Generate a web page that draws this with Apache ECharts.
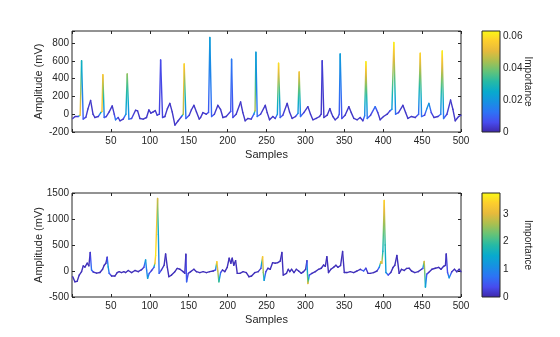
<!DOCTYPE html>
<html><head><meta charset="utf-8">
<script src="https://cdn.jsdelivr.net/npm/echarts@6/dist/echarts.min.js"></script>
<style>html,body{margin:0;padding:0;background:#fff}#c{width:560px;height:337px}</style>
</head><body><div id="c"></div>
<script>
// ---------- data ----------
const topSamples = [1,4,8,10.5,12.3,14.4,17.9,20.5,23.9,27,29.4,33.7,37,38.5,39.7,41.4,44,47.8,51.7,54.3,56,59.4,61.6,65.8,69.3,71,73.1,76.6,81.7,84.3,87.3,91.5,95.8,98.8,101.4,104.4,107,109.5,112.3,113.9,116.4,119.4,122.5,125.8,128.8,132.3,136.5,140.8,143,144.2,146.4,150.7,153.5,156.7,160,163.5,165.3,168.3,172.5,175.5,177.2,179.4,183,187.5,190.9,194,198.2,202.5,204,205.1,206.8,211,216.7,219.6,222.6,226,230.3,233.8,235.3,236.4,238.1,242.4,248.4,250.9,253.9,258.2,261.2,264,265.5,267.6,271,276.6,279.6,283,287.3,290.5,292,293.7,298,303.2,306.6,309.6,313.9,318.2,320.3,321.6,323.8,328,331.5,333.5,335.3,338.3,341.7,343.5,344.7,346.8,351,355.9,358.9,362.3,366.6,370.4,373.9,376.2,377.8,379.5,383.8,389.7,393.1,396.1,400.4,405.1,408.6,411.2,413.7,415.9,419.7,425.3,428.8,431.8,436.1,441.2,445.5,447.6,449.3,453.2,456,458.8,461.8,465.3,470.4,474,475.9,477.6,481.9,486.6,489.6,492.6,496.9,500];
const topAmplitude = [-48,-26,-26,-10,600,-55,-33,60,155,0,-37,-26,18,30,444,-37,-26,26,93,0,-63,-37,-74,-55,0,452,-55,-48,44,37,-48,-55,-37,48,11,26,41,-11,0,611,-37,-26,60,122,26,-122,-74,-26,0,566,-48,-11,50,100,26,-55,-37,18,0,20,863,-26,0,100,55,-37,-26,18,30,618,-37,0,137,18,-74,-48,-55,0,40,696,-26,0,100,18,-63,-26,-48,0,574,-37,-11,122,26,-48,-26,10,474,-26,18,85,0,-63,-48,-26,0,600,-37,-11,63,10,-26,-63,-37,0,678,-48,-11,85,18,-48,-63,-37,-74,-18,589,-48,-11,85,18,-63,-26,0,37,55,807,0,18,100,18,-48,-26,-37,0,685,-26,-11,60,122,18,-37,-26,0,711,-48,0,159,55,-74,-26,-11];
const topImportance = [0.003,0.003,0.004,0.055,0.028,0.008,0.004,0.003,0.003,0.003,0.003,0.003,0.025,0.055,0.055,0.01,0.004,0.003,0.003,0.004,0.015,0.004,0.003,0.003,0.02,0.042,0.015,0.005,0.003,0.003,0.003,0.003,0.003,0.003,0.003,0.003,0.003,0.004,0.005,0.006,0.005,0.003,0.003,0.003,0.003,0.003,0.003,0.005,0.045,0.058,0.01,0.004,0.003,0.003,0.003,0.003,0.003,0.003,0.003,0.008,0.022,0.01,0.004,0.003,0.003,0.003,0.003,0.004,0.008,0.014,0.006,0.003,0.003,0.003,0.003,0.003,0.003,0.012,0.045,0.022,0.012,0.004,0.003,0.003,0.003,0.003,0.003,0.02,0.06,0.01,0.004,0.003,0.003,0.003,0.003,0.018,0.054,0.012,0.004,0.003,0.003,0.003,0.003,0.003,0.003,0.004,0.003,0.003,0.003,0.003,0.003,0.003,0.004,0.008,0.022,0.006,0.003,0.003,0.003,0.003,0.003,0.003,0.003,0.015,0.062,0.012,0.004,0.012,0.004,0.003,0.003,0.003,0.005,0.02,0.062,0.012,0.004,0.003,0.003,0.003,0.003,0.003,0.01,0.058,0.012,0.004,0.018,0.02,0.006,0.003,0.003,0.015,0.062,0.012,0.004,0.003,0.003,0.003,0.003,0.003];

const bottomSamples = [1,3.7,6.6,9.3,12.3,14.4,16.6,19.6,21.7,23.4,25.1,27.3,31.6,35.9,39.3,41.4,43.6,45.2,46.5,47.8,50.9,55.1,58.1,60.7,63.6,66.6,69,72.3,76.6,80.9,85.1,89.4,92.4,94.6,95.9,97.2,99.3,102.3,105.3,106.6,107.5,110,111,112,115,118.4,120.3,122.5,124.5,127.9,132.2,135.2,138.7,142.9,145,146.4,147.3,149.5,152.5,156.7,160,164.3,168.6,172.8,177,181.5,184.5,186.2,187.4,188.8,191,193.5,196.5,199.5,202,204.2,205.9,208,210.3,212.4,215.8,220,224,227.4,230.8,235.1,239.4,242.8,245,245.9,247,249.2,251.8,254.8,257.8,261.2,264.5,267.6,269.8,271.5,275.7,278,280,282.3,285.3,288.3,291.3,294.7,297.5,300.3,302,303.2,305,308.4,312.7,317,320.4,323.4,325.6,327.6,329.7,332.7,336.2,339.2,341.8,345.2,347.8,350,353.4,357.7,362,366.3,370.5,374.8,377.8,380.4,383.4,387.7,392,394.9,397,398.3,399.6,401.3,402.5,403.5,406.5,409.8,412.7,414.9,417.6,420.5,423.5,427,430,433.4,436.4,440.7,445,449.3,451,452.7,454.3,456,458.4,462.7,467,471.3,474.3,477.7,480,481,482.7,484.8,488.2,491.6,494.6,497.6,500];
const bottomAmplitude = [-110,-207,-200,-78,-13,97,75,150,100,355,20,-20,-40,-30,33,110,150,265,80,-45,-97,-97,-30,-13,-30,-13,-30,10,-30,10,-13,25,70,213,20,-142,-45,10,70,150,300,1395,700,-45,20,110,330,75,-110,-78,-13,50,33,-13,-45,323,-207,-45,-13,33,-13,-30,-13,-30,-13,0,20,180,0,-207,-30,20,-13,70,245,150,245,110,200,-45,-45,-13,-30,-110,-97,-30,-13,50,277,-30,-180,-13,53,33,160,150,160,190,355,-78,-45,33,-13,33,-30,33,0,-45,-13,33,200,-240,-78,-45,-13,33,53,115,90,277,-30,33,70,110,70,105,375,-30,-30,-13,-30,0,33,0,53,-45,-45,-30,0,70,180,150,380,1357,500,-30,-78,-30,70,110,300,-45,33,10,50,53,0,-30,-13,33,50,185,-310,-60,-30,33,53,70,33,90,110,330,-30,-130,-13,33,-13,33,-13];
const bottomImportance = [0.1,0.1,0.1,0.1,0.1,0.1,0.1,0.1,0.1,0.15,0.8,0.2,0.1,0.1,0.1,0.1,0.1,0.2,1.3,0.6,0.1,0.1,0.1,0.1,0.1,0.1,0.1,0.1,0.1,0.1,0.1,0.1,0.3,1.3,0.8,1.4,0.5,0.2,0.6,3.2,3.6,2.9,1.4,0.6,0.2,0.1,0.1,0.1,0.1,0.1,0.1,0.1,0.1,0.1,0.1,0.1,0.6,0.2,0.1,0.1,0.1,0.1,0.1,0.1,0.1,0.1,0.4,3.4,2.8,2.0,0.5,0.1,0.1,0.1,0.1,0.1,0.1,0.1,0.1,0.1,0.1,0.1,0.1,0.1,0.1,0.1,0.1,0.3,3.3,2.5,1.3,0.3,0.1,0.1,0.1,0.1,0.1,0.1,0.1,0.1,0.1,0.1,0.1,0.1,0.1,0.1,0.1,0.1,0.1,0.1,0.2,3.0,0.5,0.1,0.1,0.1,0.1,0.1,0.1,0.1,0.1,0.1,0.1,0.1,0.1,0.1,0.1,0.1,0.1,0.1,0.1,0.1,0.1,0.6,0.3,0.1,0.1,0.1,0.1,0.8,3.2,3.0,1.6,3.4,1.8,1.2,0.4,0.1,0.1,0.1,0.1,0.1,0.1,0.1,0.1,0.1,0.1,0.1,0.1,0.1,0.5,2.9,1.5,0.4,0.1,0.1,0.1,0.1,0.1,0.1,0.1,0.1,0.4,1.2,0.2,0.1,0.1,0.1,0.1];

const xTickLabels = [50,100,150,200,250,300,350,400,450,500];
const topYTickLabels = [-200,0,200,400,600,800];
const bottomYTickLabels = [-500,0,500,1000,1500];
const topCbTickLabels = [0,0.02,0.04,0.06];
const bottomCbTickLabels = [0,1,2,3];
const topImpMax = 0.0635;
const bottomImpMax = 3.75;

// ---------- colormap (parula-like) ----------
const parulaStops = [[62,38,168],[71,76,238],[45,115,245],[22,145,226],[8,170,205],[38,186,165],[100,195,120],[170,191,80],[230,186,60],[253,206,45],[249,250,20]];
function parula(t){
  t = Math.max(0, Math.min(1, t));
  const f = t*(parulaStops.length-1), i = Math.min(Math.floor(f), parulaStops.length-2), r = f-i;
  const a = parulaStops[i], b = parulaStops[i+1];
  return 'rgb(' + [0,1,2].map(k=>Math.round(a[k]+(b[k]-a[k])*r)).join(',') + ')';
}
function cbGradient(){
  const stops = [];
  for (let k=0;k<=20;k++) stops.push({offset:k/20, color: parula(1-k/20)});
  return new echarts.graphic.LinearGradient(0,0,0,1,stops);
}

const TXT = '#262626';
const FONT = 'Liberation Sans, Arial, sans-serif';
function inList(list){ return v => list.some(t=>Math.abs(t-v)<1e-9) ? String(v) : ''; }

function makeSeries(xs, ys, imps, impMax, xi, yi){
  const data = xs.slice(0,-1).map((x,i)=>[x, ys[i], i]);
  return {
    type:'custom', coordinateSystem:'cartesian2d', xAxisIndex:xi, yAxisIndex:yi,
    data, encode:{x:0,y:1}, silent:true, animation:false,
    renderItem(params, api){
      const i = api.value(2);
      const p0 = api.coord([xs[i], ys[i]]), p1 = api.coord([xs[i+1], ys[i+1]]);
      const a = imps[i], b = imps[i+1];
      let stroke;
      if (Math.abs(a-b) < 1e-12) stroke = parula(a/impMax);
      else {
        const stops = [];
        for (let k=0;k<=8;k++){ const t=k/8; stops.push({offset:t, color: parula((a+(b-a)*t)/impMax)}); }
        stroke = new echarts.graphic.LinearGradient(p0[0],p0[1],p1[0],p1[1],stops,true);
      }
      return {type:'line', shape:{x1:p0[0],y1:p0[1],x2:p1[0],y2:p1[1]}, style:{stroke, lineWidth:1.4, lineCap:'round'}};
    }
  };
}

const chart = echarts.init(document.getElementById('c'), null, {renderer:'canvas'});
const labelStyle = {color:TXT, fontSize:10, fontFamily:FONT};
function mainX(gi, show){
  return {type:'value', gridIndex:gi, min:0, max:500, interval:50, position: show?'bottom':'top',
    axisLine:{show:false, onZero:false}, splitLine:{show:false},
    axisTick:{show:true, inside:true, length:3, lineStyle:{color:TXT}},
    axisLabel:{show:show, margin:4, formatter: inList(xTickLabels), ...labelStyle},
    name: show?'Samples':'', nameLocation:'middle', nameGap:17, nameMoveOverlap:false,
    nameTextStyle:{color:TXT, fontSize:11, fontFamily:FONT}};
}
function mainY(gi, show, min, max, interval, ticks){
  return {type:'value', gridIndex:gi, min, max, interval, position: show?'left':'right',
    axisLine:{show:false, onZero:false}, splitLine:{show:false},
    axisTick:{show:true, inside:true, length:3, lineStyle:{color:TXT}},
    axisLabel:{show:show, margin:3, formatter: inList(ticks), ...labelStyle},
    name: show?'Amplitude (mV)':'', nameLocation:'middle', nameGap:28, nameMoveOverlap:false,
    nameTextStyle:{color:TXT, fontSize:11, fontFamily:FONT}};
}
function cbY(gi, max, interval, ticks){
  return {type:'value', gridIndex:gi, min:0, max, interval, position:'right',
    axisLine:{show:false, onZero:false}, splitLine:{show:false}, axisTick:{show:false},
    axisLabel:{margin:3, formatter: inList(ticks), ...labelStyle},
    name:'Importance', nameLocation:'middle', nameRotate:-90, nameGap:23, nameMoveOverlap:false,
    nameTextStyle:{color:TXT, fontSize:10, fontFamily:FONT}};
}
const gridBase = {show:true, borderColor:TXT, borderWidth:1, containLabel:false, outerBoundsMode:'none'};
chart.setOption({
  backgroundColor:'#fff',
  animation:false,
  grid:[
    {...gridBase, left:72, top:31, width:389, height:101},
    {...gridBase, left:72, top:193, width:389, height:104},
    {...gridBase, left:482, top:31, width:18, height:101, backgroundColor: cbGradient()},
    {...gridBase, left:482, top:193, width:18, height:104, backgroundColor: cbGradient()}
  ],
  xAxis:[
    mainX(0,true), mainX(0,false), mainX(1,true), mainX(1,false),
    {type:'value', gridIndex:2, show:false, min:0, max:1},
    {type:'value', gridIndex:3, show:false, min:0, max:1}
  ],
  yAxis:[
    mainY(0,true,-200,935,200,topYTickLabels), mainY(0,false,-200,935,200,topYTickLabels),
    mainY(1,true,-500,1500,500,bottomYTickLabels), mainY(1,false,-500,1500,500,bottomYTickLabels),
    cbY(2, topImpMax, 0.02, topCbTickLabels),
    cbY(3, bottomImpMax, 1, bottomCbTickLabels)
  ],
  series:[
    makeSeries(topSamples, topAmplitude, topImportance, topImpMax, 0, 0),
    makeSeries(bottomSamples, bottomAmplitude, bottomImportance, bottomImpMax, 2, 2)
  ]
});
</script></body></html>
